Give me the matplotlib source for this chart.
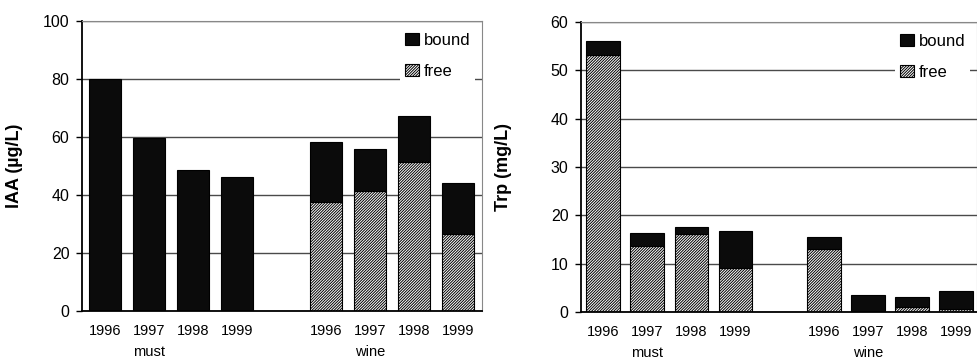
import numpy as np
import matplotlib
matplotlib.use("Agg")
import matplotlib.pyplot as plt
from matplotlib.patches import Patch
from matplotlib.transforms import blended_transform_factory

plt.rcParams["font.family"] = ["Liberation Sans", "DejaVu Sans"]
plt.rcParams["hatch.linewidth"] = 0.7

years = ["1996", "1997", "1998", "1999"]
groups = ["must", "wine"]

# IAA (ug/L): total and free part, must then wine
iaa_total = [80, 59.6, 48.5, 46.2, 58.3, 55.8, 67.3, 44.2]
iaa_free = [0, 0, 0, 0, 37.6, 41.5, 51.4, 26.7]

# Trp (mg/L): total and free part, must then wine
trp_total = [56.1, 16.4, 17.7, 16.8, 15.6, 3.6, 3.2, 4.3]
trp_free = [53.1, 13.7, 16.1, 9.2, 13.0, 0, 1.0, 0.7]

pos = np.array([0, 1, 2, 3, 5, 6, 7, 8])
HATCH = "////////////"


def panel(ax, total, free, ylabel, ymax, ystep, width, xlim, ylab_x):
    total = np.array(total)
    free = np.array(free)
    bound = total - free
    ax.bar(pos, free, width, color="white", edgecolor="black",
           hatch=HATCH, linewidth=0.8, zorder=2)
    ax.bar(pos, bound, width, bottom=free, color="#0b0b0b",
           edgecolor="black", linewidth=0.8, zorder=2)

    ax.set_xlim(*xlim)
    ax.set_ylim(0, ymax)
    ax.set_yticks(np.arange(0, ymax + 1, ystep))
    ax.set_xticks(pos)
    ax.set_xticklabels(years * 2, fontsize=10.5)
    ax.tick_params(axis="x", length=0, pad=9)
    ax.tick_params(axis="y", length=4, width=1, pad=5, labelsize=11.5)
    ax.yaxis.grid(True, color="#4a4a4a", linewidth=1)
    ax.set_axisbelow(True)

    for s in ("left", "bottom"):
        ax.spines[s].set_color("black")
        ax.spines[s].set_linewidth(1.3)
    for s in ("top", "right"):
        ax.spines[s].set_color("#888888")
        ax.spines[s].set_linewidth(0.8)

    ax.set_ylabel(ylabel, fontsize=13, fontweight="bold")
    ax.yaxis.set_label_coords(ylab_x, 0.5)

    tr = blended_transform_factory(ax.transData, ax.transAxes)
    ax.text(1, -0.142, groups[0], transform=tr, ha="center", va="center",
            fontsize=10.5)
    ax.text(6, -0.142, groups[1], transform=tr, ha="center", va="center",
            fontsize=10.5)

    handles = [Patch(facecolor="#0b0b0b", edgecolor="black", linewidth=0.8),
               Patch(facecolor="white", edgecolor="black", hatch=HATCH,
                     linewidth=0.8)]
    leg = ax.legend(handles, ["bound", "free"], loc="upper right",
                    fontsize=12, frameon=True, fancybox=False,
                    handlelength=0.8, handleheight=0.8, handletextpad=0.3,
                    labelspacing=0.95, borderaxespad=0.4, borderpad=0.3)
    leg.get_frame().set_facecolor("white")
    leg.get_frame().set_edgecolor("none")
    leg.get_frame().set_alpha(1)


fig = plt.figure(figsize=(9.78, 3.6), dpi=100)
ax1 = fig.add_axes([0.0838, 0.136, 0.409, 0.806])
ax2 = fig.add_axes([0.594, 0.133, 0.405, 0.806])

panel(ax1, iaa_total, iaa_free, "IAA (µg/L)", 100, 20, 0.72,
      (-0.52, 8.54), -0.148)
panel(ax2, trp_total, trp_free, "Trp (mg/L)", 60, 10, 0.76,
      (-0.5, 8.47), -0.175)

fig.savefig("out.png", dpi=100)
